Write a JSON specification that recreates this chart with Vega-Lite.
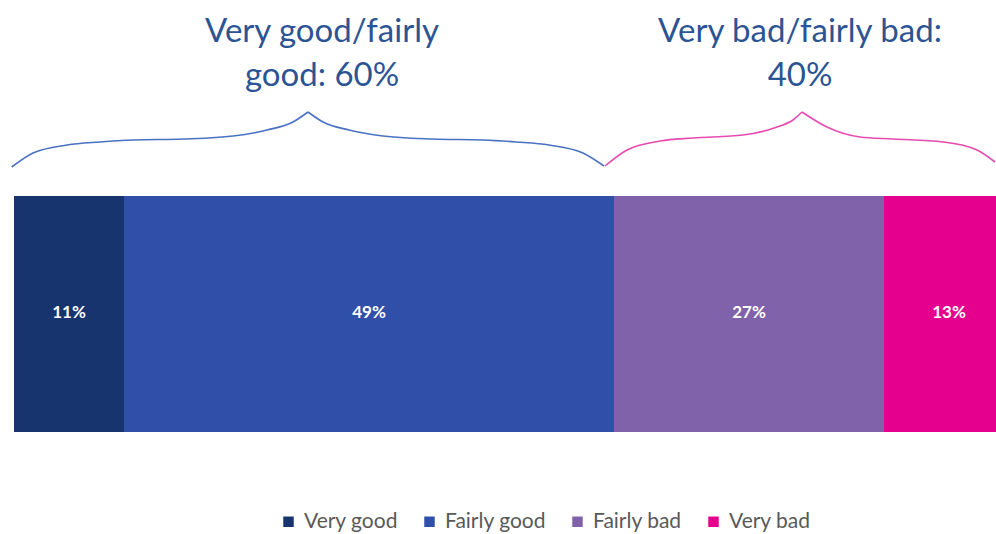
{
  "$schema": "https://vega.github.io/schema/vega-lite/v6.json",
  "width": 996,
  "height": 534,
  "autosize": {"type": "none"},
  "padding": 0,
  "background": "white",
  "config": {"view": {"stroke": null}, "font": "Lato"},
  "datasets": {
    "bars": [
      {"category": "Very good", "idx": 1, "pct": 11, "label": "11%"},
      {"category": "Fairly good", "idx": 2, "pct": 49, "label": "49%"},
      {"category": "Fairly bad", "idx": 3, "pct": 27, "label": "27%"},
      {"category": "Very bad", "idx": 4, "pct": 13, "label": "13%"}
    ],
    "leftBrace": [
      {"half": "a", "x": -0.23, "y": 167},
      {"half": "a", "x": 1.9, "y": 153},
      {"half": "a", "x": 5.3, "y": 145},
      {"half": "a", "x": 8.6, "y": 142},
      {"half": "a", "x": 11.9, "y": 140},
      {"half": "a", "x": 16.9, "y": 139},
      {"half": "a", "x": 21.9, "y": 136},
      {"half": "a", "x": 25.3, "y": 130},
      {"half": "a", "x": 27.9, "y": 122},
      {"half": "a", "x": 29.4, "y": 112},
      {"half": "b", "x": 29.4, "y": 112},
      {"half": "b", "x": 30.9, "y": 122},
      {"half": "b", "x": 33.5, "y": 130},
      {"half": "b", "x": 36.9, "y": 136},
      {"half": "b", "x": 41.9, "y": 139},
      {"half": "b", "x": 46.9, "y": 140},
      {"half": "b", "x": 50.2, "y": 142},
      {"half": "b", "x": 53.5, "y": 145},
      {"half": "b", "x": 56.9, "y": 153},
      {"half": "b", "x": 59.0, "y": 166}
    ],
    "rightBrace": [
      {"half": "a", "x": 59.1, "y": 166},
      {"half": "a", "x": 61.3, "y": 150},
      {"half": "a", "x": 64.6, "y": 141},
      {"half": "a", "x": 67.9, "y": 138},
      {"half": "a", "x": 72.9, "y": 135},
      {"half": "a", "x": 76.3, "y": 127},
      {"half": "a", "x": 77.9, "y": 120},
      {"half": "a", "x": 78.8, "y": 112},
      {"half": "b", "x": 78.8, "y": 112},
      {"half": "b", "x": 81.3, "y": 127},
      {"half": "b", "x": 84.6, "y": 137},
      {"half": "b", "x": 87.9, "y": 139},
      {"half": "b", "x": 92.9, "y": 142},
      {"half": "b", "x": 96.3, "y": 150},
      {"half": "b", "x": 98.1, "y": 162}
    ],
    "titles": [
      {"label": ["Very good/fairly", "good: 60%"], "x": 30.8},
      {"label": ["Very bad/fairly bad:", "40%"], "x": 78.6}
    ]
  },
  "resolve": {"scale": {"x": "shared", "y": "shared"}},
  "layer": [
    {
      "data": {"name": "bars"},
      "transform": [
        {"stack": "pct", "groupby": [], "sort": [{"field": "idx"}], "as": ["s0", "s1"]}
      ],
      "mark": {"type": "bar", "clip": true},
      "encoding": {
        "x": {"field": "s0", "type": "quantitative", "scale": {"domain": [-1.4, 98.2], "nice": false, "zero": false}, "axis": null},
        "x2": {"field": "s1"},
        "y": {"datum": 196, "type": "quantitative", "scale": {"domain": [0, 534], "reverse": true, "nice": false, "zero": false}, "axis": null},
        "y2": {"datum": 432},
        "color": {
          "field": "category", "type": "nominal",
          "scale": {"domain": ["Very good", "Fairly good", "Fairly bad", "Very bad"], "range": ["#17346F", "#304FA9", "#8062AA", "#E5008E"]},
          "legend": {
            "title": null, "orient": "none", "direction": "horizontal",
            "legendX": 278, "legendY": 511,
            "symbolType": "square", "symbolSize": 110, "symbolStrokeWidth": 0,
            "labelFontSize": 21, "labelColor": "#595959", "labelFont": "Lato",
            "columnPadding": 21, "labelOffset": 5
          }
        }
      }
    },
    {
      "data": {"name": "bars"},
      "transform": [
        {"stack": "pct", "groupby": [], "sort": [{"field": "idx"}], "as": ["s0", "s1"]},
        {"calculate": "(datum.s0 + datum.s1) / 2", "as": "mid"}
      ],
      "mark": {"type": "text", "fontWeight": "bold", "fontSize": 17, "font": "Lato", "baseline": "middle", "align": "center"},
      "encoding": {
        "x": {"field": "mid", "type": "quantitative"},
        "y": {"datum": 313, "type": "quantitative"},
        "text": {"field": "label", "type": "nominal"},
        "color": {"value": "white"}
      }
    },
    {
      "data": {"name": "leftBrace"},
      "mark": {"type": "line", "interpolate": "monotone", "stroke": "#4A72C2", "strokeWidth": 1.6},
      "encoding": {
        "x": {"field": "x", "type": "quantitative"},
        "y": {"field": "y", "type": "quantitative"},
        "detail": {"field": "half", "type": "nominal"}
      }
    },
    {
      "data": {"name": "rightBrace"},
      "mark": {"type": "line", "interpolate": "monotone", "stroke": "#E64BB0", "strokeWidth": 1.6},
      "encoding": {
        "x": {"field": "x", "type": "quantitative"},
        "y": {"field": "y", "type": "quantitative"},
        "detail": {"field": "half", "type": "nominal"}
      }
    },
    {
      "data": {"name": "titles"},
      "mark": {"type": "text", "fontSize": 33, "color": "#2B5494", "font": "Lato", "lineHeight": 44, "baseline": "middle", "align": "center"},
      "encoding": {
        "x": {"field": "x", "type": "quantitative"},
        "y": {"datum": 32, "type": "quantitative"},
        "text": {"field": "label"}
      }
    }
  ]
}
